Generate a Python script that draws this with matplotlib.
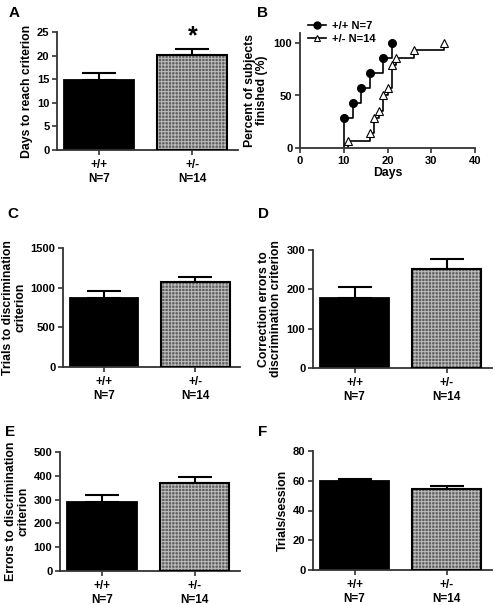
import matplotlib.pyplot as plt
import numpy as np

plt.rcParams['font.family'] = ['Liberation Sans', 'DejaVu Sans']
plt.rcParams['font.weight'] = 'bold'
plt.rcParams['axes.labelweight'] = 'bold'
plt.rcParams['hatch.linewidth'] = 0.7

groups = ["+/+\nN=7", "+/-\nN=14"]

days_mean = [14.8, 20.1]
days_sem = [1.6, 1.3]
trials_mean = [870, 1075]
trials_sem = [90, 60]
corr_mean = [177, 252]
corr_sem = [30, 25]
errors_mean = [290, 368]
errors_sem = [30, 25]
session_mean = [60, 54.5]
session_sem = [1.5, 2.0]

# survival (percent finished) data
wt_days = [10, 12, 14, 16, 19, 21]
wt_pct = [28.6, 42.9, 57.1, 71.4, 85.7, 100]
het_days = [11, 16, 17, 18, 19, 20, 21, 22, 26, 33]
het_pct = [7.1, 14.3, 28.6, 35.7, 50.0, 57.1, 78.6, 85.7, 92.9, 100]

W, H = 495, 605
fig = plt.figure(figsize=(W / 100, H / 100), dpi=100)


def box(l, r, t, b):
    return [l / W, 1 - b / H, (r - l) / W, (b - t) / H]


def style(ax):
    for s in ['top', 'right']:
        ax.spines[s].set_visible(False)
    for s in ['left', 'bottom']:
        ax.spines[s].set_linewidth(1.3)
        ax.spines[s].set_color('#333333')
    ax.tick_params(axis='both', direction='out', width=1.2, length=3.5, labelsize=8,
                   color='#333333', pad=2)


def bar_panel(rect, means, sems, ylim, yticks, ylabel, letter, lpos):
    ax = fig.add_axes(box(*rect))
    x = np.arange(len(means))
    ax.bar(x[0], means[0], width=0.75, color='black', edgecolor='black', linewidth=1.3, zorder=2)
    ax.bar(x[1], means[1], width=0.75, color='#606060', edgecolor='#bdbdbd', hatch='+++++',
           linewidth=0, zorder=2)
    ax.bar(x[1], means[1], width=0.75, fill=False, edgecolor='black', linewidth=1.5, zorder=3)
    ax.errorbar(x, means, yerr=[[0, 0], sems], fmt='none', ecolor='black',
                elinewidth=1.5, capsize=12, capthick=1.5, zorder=1)
    ax.set_xlim(-0.45, 1.49)
    ax.set_ylim(*ylim)
    ax.set_yticks(yticks)
    ax.set_xticks(x)
    ax.set_xticklabels(groups, fontsize=8.5)
    ax.set_ylabel(ylabel, fontsize=8.8, labelpad=3, linespacing=1.0)
    style(ax)
    ax.tick_params(axis='x', labelsize=8.5, pad=3)
    fig.text(lpos[0] / W, 1 - lpos[1] / H, letter, fontsize=11, fontweight='bold',
             va='top', ha='left')
    return ax


axA = bar_panel((57, 238, 32, 150), days_mean, days_sem, (0, 25), [0, 5, 10, 15, 20, 25],
                "Days to reach criterion", "A", (9, 6))
axA.text(1, days_mean[1] + days_sem[1] + 0.2, "*", ha='center', va='bottom',
         fontsize=18, fontweight='bold')

bar_panel((63, 240, 248, 367), trials_mean, trials_sem, (0, 1500), [0, 500, 1000, 1500],
          "Trials to discrimination\ncriterion", "C", (7, 207))
bar_panel((313, 492, 250, 368), corr_mean, corr_sem, (0, 300), [0, 100, 200, 300],
          "Correction errors to\ndiscrimination criterion", "D", (258, 207))
bar_panel((60, 240, 452, 571), errors_mean, errors_sem, (0, 500), [0, 100, 200, 300, 400, 500],
          "Errors to discrimination\ncriterion", "E", (5, 425))
bar_panel((313, 492, 451, 570), session_mean, session_sem, (0, 80), [0, 20, 40, 60, 80],
          "Trials/session", "F", (258, 425))

# panel B: step curves
axB = fig.add_axes(box(300, 475, 32.5, 148))
wx = [wt_days[0]] + wt_days
wy = [0] + wt_pct
axB.step(wx, wy, where='post', color='black', linewidth=1.2)
axB.plot(wt_days, wt_pct, 'o', color='black', markersize=5.5)
hx = [het_days[0]] + het_days
hy = [0] + het_pct
axB.step(hx, hy, where='post', color='black', linewidth=1.2)
axB.plot(het_days, het_pct, '^', mfc='white', mec='black', markersize=5.5, mew=0.8)
axB.plot([], [], 'o-', color='black', markersize=5, linewidth=1.2, label='+/+ N=7')
axB.plot([], [], '^-', color='black', mfc='white', markersize=5, linewidth=1.2,
         mew=0.8, label='+/- N=14')
axB.set_xlim(0, 40)
axB.set_ylim(0, 110)
axB.set_xticks([0, 10, 20, 30, 40])
axB.set_yticks([0, 50, 100])
axB.set_xlabel("Days", fontsize=8.8, labelpad=1)
axB.set_ylabel("Percent of subjects\nfinished (%)", fontsize=8.8, linespacing=1.0)
style(axB)
axB.legend(loc='upper left', bbox_to_anchor=(0.02, 1.14), frameon=False, fontsize=8,
           handlelength=1.6, handletextpad=0.6, borderaxespad=0, labelspacing=0.3)
fig.text(257 / W, 1 - 6 / H, "B", fontsize=11, fontweight='bold', va='top', ha='left')

fig.savefig("out.png", dpi=100)
